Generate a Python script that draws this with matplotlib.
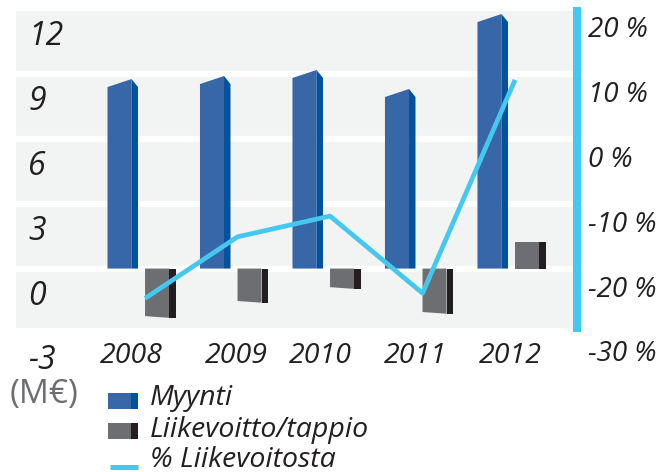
import numpy as np
import matplotlib
matplotlib.use("Agg")
import matplotlib.pyplot as plt
from matplotlib.patches import Polygon, Rectangle
from matplotlib.lines import Line2D
from matplotlib.transforms import ScaledTranslation, blended_transform_factory

# --- data ---
years = ["2008", "2009", "2010", "2011", "2012"]
myynti = [8.40, 8.54, 8.82, 7.94, 11.41]          # M€
liikevoitto = [-2.20, -1.50, -0.86, -2.01, 1.23]  # M€
liikevoitto_pct = [-24.6, -15.1, -11.9, -23.8, 9.1]  # %
left_ticks = [12, 9, 6, 3, 0, -3]
right_ticks = [20, 10, 0, -10, -20, -30]
legend_labels = ["Myynti", "Liikevoitto/tappio", "% Liikevoitosta"]

# --- colours ---
BG = "#f2f4f3"
BLUE_FRONT = "#3867a8"
BLUE_SIDE = "#02529c"
GREY_FRONT = "#6d6e71"
GREY_SIDE = "#231f20"
LINE = "#45c8f0"
TEXT = "#231f20"
FONT = "Open Sans"

W, H = 664, 472
fig = plt.figure(figsize=(W / 100, H / 100), dpi=100)
fig.patch.set_facecolor("white")

# axes occupies the grey panel (pixel box 16..583 x 11..328)
ax = fig.add_axes([16 / W, 1 - 328 / H, (583 - 16) / W, (328 - 11) / H])
ax.set_facecolor(BG)
ax.set_xlim(-1.357, 4.773)
ax.set_ylim(-2.75, 11.92)
for s in ax.spines.values():
    s.set_visible(False)
ax.set_xticks([])
ax.set_yticks([])

# white separators between the grey bands
for g in [0, 3, 6, 9]:
    ax.axhline(g, color="white", lw=4.5, zorder=1)

# pseudo-3D bars
front_w, depth, gap = 0.26, 0.07, 0.076
slant = 0.37
x = np.arange(len(years))
for xi, h in zip(x, myynti):
    x0 = xi - gap / 2 - depth - front_w
    x1 = x0 + front_w
    x2 = x1 + depth
    ax.add_patch(Polygon([(x0, 0), (x1, 0), (x1, h + slant), (x0, h)],
                         closed=True, fc=BLUE_FRONT, ec="none", zorder=2))
    ax.add_patch(Polygon([(x1, 0), (x2, 0), (x2, h), (x1, h + slant)],
                         closed=True, fc=BLUE_SIDE, ec="none", zorder=2))
for xi, h in zip(x, liikevoitto):
    x0 = xi + gap / 2
    x1 = x0 + front_w
    x2 = x1 + depth
    dip = -0.08 if h < 0 else 0.0
    ax.add_patch(Polygon([(x0, 0), (x1, 0), (x1, h + dip), (x0, h)],
                         closed=True, fc=GREY_FRONT, ec="none", zorder=2))
    ax.add_patch(Polygon([(x1, 0), (x2, 0), (x2, h + dip), (x1, h + dip)],
                         closed=True, fc=GREY_SIDE, ec="none", zorder=2))

# percentage line on the right axis
ax2 = ax.twinx()
ax2.set_ylim((-2.75 - 6) * 10 / 3, (11.92 - 6) * 10 / 3)
ax2.set_xlim(ax.get_xlim())
ax2.plot(x + gap / 2, liikevoitto_pct, color=LINE, lw=3.4, solid_capstyle="butt", zorder=3)
ax2.set_yticks([])
for name in ["left", "top", "bottom"]:
    ax2.spines[name].set_visible(False)
ax2.spines["right"].set_position(("axes", (577 - 16) / (583 - 16)))
ax2.spines["right"].set_color(LINE)
ax2.spines["right"].set_linewidth(5.8)

# tick labels (sit half a band below their gridline in the original)
lt = blended_transform_factory(ax.transAxes, ax.transData) + \
    ScaledTranslation(0, -36 / 100, fig.dpi_scale_trans)
for v in left_ticks:
    ax.text((28 - 16) / 567, v, str(v), transform=lt,
            ha="left", va="baseline", fontsize=23, style="italic",
            family=FONT, color=TEXT)

rt = blended_transform_factory(ax2.transAxes, ax2.transData) + \
    ScaledTranslation(0, -28 / 100, fig.dpi_scale_trans)
for v in right_ticks:
    ax2.text((588 - 16) / 567, v, f"{v} %", transform=rt,
             ha="left", va="baseline", fontsize=20, style="italic",
             family=FONT, color=TEXT)

year_px = [131, 236, 320, 415, 510]
for label, px in zip(years, year_px):
    fig.text(px / W, 1 - 363 / H, label, ha="center", va="baseline",
             fontsize=20.5, style="italic", family=FONT, color=TEXT)

fig.text(44.5 / W, 1 - 395 / H, "(M€)", ha="center", va="center",
         fontsize=24, family=FONT, color="#6d6e71")

# hand-made legend with the two-tone swatches
def swatch(top, front, side):
    fig.add_artist(Rectangle((108 / W, 1 - (top + 16) / H), 23 / W, 16 / H,
                             transform=fig.transFigure, fc=front, ec="none"))
    fig.add_artist(Rectangle((131 / W, 1 - (top + 16) / H), 7 / W, 16 / H,
                             transform=fig.transFigure, fc=side, ec="none"))

swatch(393, BLUE_FRONT, BLUE_SIDE)
swatch(423, GREY_FRONT, GREY_SIDE)
fig.add_artist(Line2D([110 / W, 138 / W], [1 - 466.5 / H] * 2,
                      transform=fig.transFigure, color=LINE, lw=3.6,
                      solid_capstyle="butt"))
for label, base in zip(legend_labels, [405, 437, 467]):
    fig.text(150 / W, 1 - base / H, label, ha="left", va="baseline",
             fontsize=20.5, style="italic", family=FONT, color=TEXT)

fig.savefig("out.png", dpi=100)
